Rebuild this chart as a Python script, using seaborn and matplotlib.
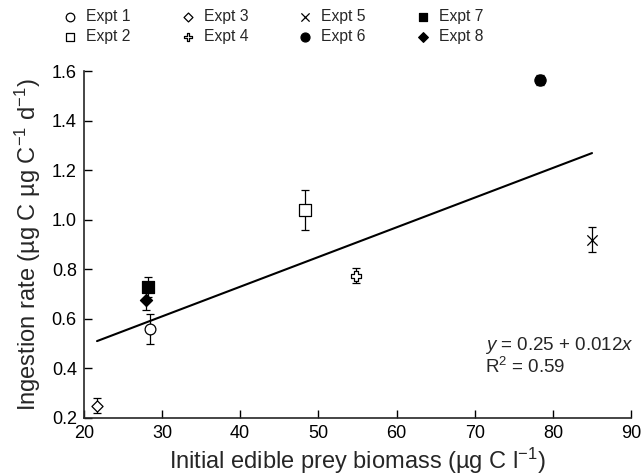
import numpy as np
import pandas as pd
import matplotlib
matplotlib.use("Agg")
import matplotlib.pyplot as plt
import seaborn as sns

# data
expts = ["Expt 1", "Expt 2", "Expt 3", "Expt 4", "Expt 5", "Expt 6", "Expt 7", "Expt 8"]
biomass = [28.5, 48.3, 21.7, 54.8, 85.0, 78.4, 28.2, 28.0]
ingestion = [0.56, 1.04, 0.25, 0.775, 0.92, 1.565, 0.73, 0.675]
ingestion_err = [0.06, 0.08, 0.03, 0.03, 0.05, 0.02, 0.04, 0.04]
fit_intercept = 0.25
fit_slope = 0.012
r_squared = 0.59

markers = ["o", "s", "D", "P", "x", "o", "s", "D"]
facecolors = ["white", "white", "white", "white", "black", "black", "black", "black"]
sizes = [60, 65, 32, 60, 55, 65, 65, 38]

sns.set_style("ticks")
plt.rcParams["font.family"] = ["Liberation Sans", "DejaVu Sans"]
plt.rcParams["mathtext.fontset"] = "custom"
plt.rcParams["mathtext.rm"] = "Liberation Sans"
plt.rcParams["mathtext.it"] = "Liberation Sans:italic"

df = pd.DataFrame({"expt": expts, "x": biomass, "y": ingestion, "err": ingestion_err})

fig, ax = plt.subplots(figsize=(6.44, 4.76), dpi=100)
fig.subplots_adjust(left=0.13, right=0.98, bottom=0.122, top=0.85)

# regression line across the observed range
xs = np.array([df["x"].min(), df["x"].max()])
fit = pd.DataFrame({"x": xs, "y": fit_intercept + fit_slope * xs})
sns.lineplot(data=fit, x="x", y="y", color="black", linewidth=1.5, ax=ax, zorder=2)

ax.errorbar(df["x"], df["y"], yerr=df["err"], fmt="none", ecolor="black",
            elinewidth=0.9, capsize=3, capthick=0.9, zorder=3)

for i, row in df.iterrows():
    sns.scatterplot(x=[row["x"]], y=[row["y"]], marker=markers[i], s=sizes[i],
                    facecolor=facecolors[i] if markers[i] != "x" else "black",
                    edgecolor="black", linewidth=0.9, ax=ax, zorder=4,
                    label=row["expt"])

ax.set_xlim(20, 90)
ax.set_ylim(0.2, 1.6)
ax.set_xticks(range(20, 91, 10))
ax.set_yticks(np.arange(0.2, 1.61, 0.2))
ax.set_yticklabels([f"{v:.1f}" for v in np.arange(0.2, 1.61, 0.2)])
ax.tick_params(direction="in", length=6, width=1, labelsize=13, colors="black", pad=5)
for s in ["left", "bottom"]:
    ax.spines[s].set_linewidth(1.2)
sns.despine(ax=ax)

ax.set_xlabel(r"Initial edible prey biomass (µg C l$^{-1}$)", fontsize=17, labelpad=3)
ax.set_ylabel(r"Ingestion rate (µg C µg C$^{-1}$ d$^{-1}$)", fontsize=17, labelpad=6)

ax.text(71.3, 0.45, r"$\it{y}$ = 0.25 + 0.012$\it{x}$" + "\n" + r"R$^2$ = " + f"{r_squared:.2f}",
        fontsize=13.5, ha="left", va="center", linespacing=1.05)

handles, labels = ax.get_legend_handles_labels()
ax.get_legend().remove()
fig.legend(handles, labels, loc="upper left", bbox_to_anchor=(0.069, 1.010), ncol=4,
           frameon=False, fontsize=11.3, handletextpad=0.25, handlelength=1.5,
           columnspacing=2.9, labelspacing=0.3, markerscale=0.8)

fig.savefig("out.png", dpi=100)
